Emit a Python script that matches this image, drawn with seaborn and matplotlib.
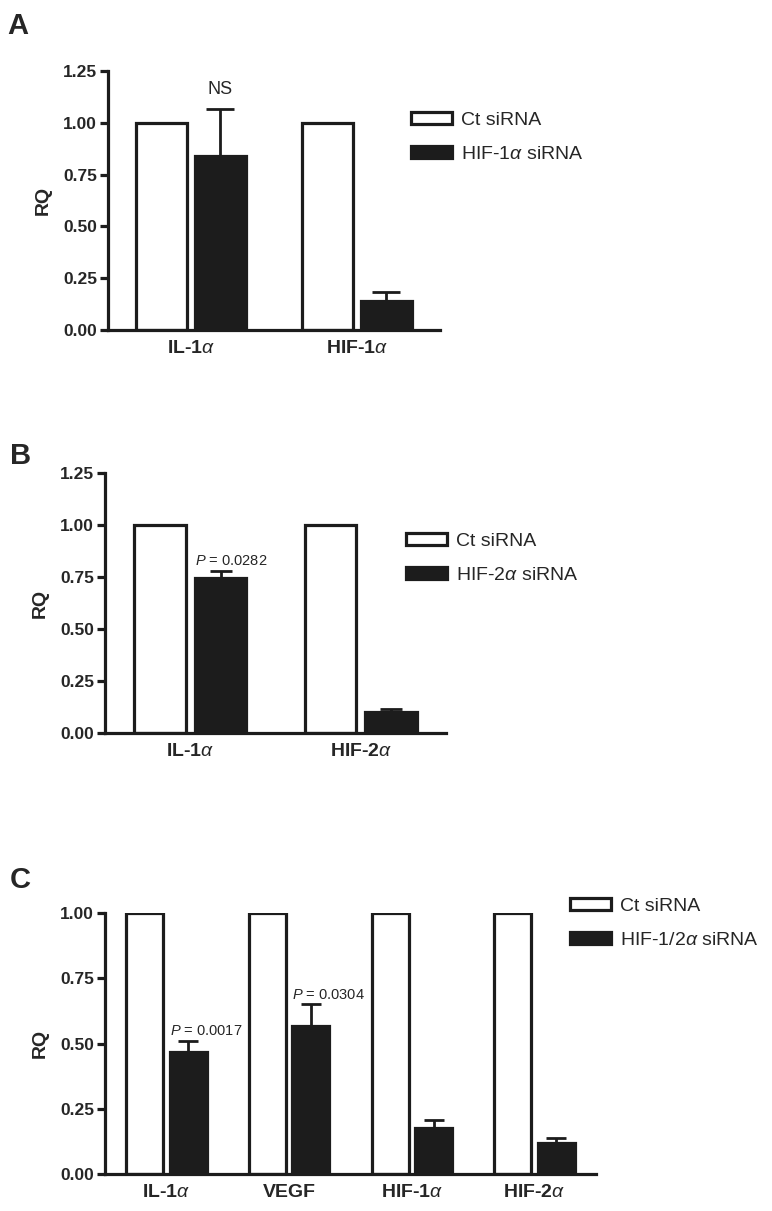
import numpy as np
import pandas as pd
import seaborn as sns
import matplotlib.pyplot as plt
import matplotlib.patches as mpatches

# Panel A : HIF-1a siRNA
genes_a = ['IL-1$\\alpha$', 'HIF-1$\\alpha$']
ct_a = [1.0, 1.0]
si_a = [0.84, 0.141]
err_a = [0.227, 0.044]
lab_a = 'HIF-1$\\alpha$ siRNA'
note_a = ['NS', '']

# Panel B : HIF-2a siRNA
genes_b = ['IL-1$\\alpha$', 'HIF-2$\\alpha$']
ct_b = [1.0, 1.0]
si_b = [0.747, 0.102]
err_b = [0.033, 0.012]
lab_b = 'HIF-2$\\alpha$ siRNA'
note_b = ['$P$ = 0.0282', '']

# Panel C : HIF-1/2a siRNA
genes_c = ['IL-1$\\alpha$', 'VEGF', 'HIF-1$\\alpha$', 'HIF-2$\\alpha$']
ct_c = [1.0, 1.0, 1.0, 1.0]
si_c = [0.469, 0.568, 0.177, 0.119]
err_c = [0.042, 0.083, 0.030, 0.018]
lab_c = 'HIF-1/2$\\alpha$ siRNA'
note_c = ['$P$ = 0.0017', '$P$ = 0.0304', '', '']

sns.set_style('ticks')
plt.rcParams['font.family'] = ['Liberation Sans', 'DejaVu Sans']
plt.rcParams['mathtext.fontset'] = 'custom'
plt.rcParams['mathtext.it'] = 'Liberation Sans:italic'
plt.rcParams['mathtext.rm'] = 'Liberation Sans'

ink = '#1c1c1c'
W, H = 772, 1211
fig = plt.figure(figsize=(W / 100, H / 100), dpi=100)


def rect(l, t, r, b):
    return [l / W, 1 - b / H, (r - l) / W, (b - t) / H]


def panel(box, genes, ct, si, err, lab, notes, ymax, cap, leg_xy, letter, letter_xy):
    ax = fig.add_axes(rect(*box))
    df = pd.DataFrame({'gene': genes * 2,
                       'RQ': ct + si,
                       'group': ['Ct siRNA'] * len(genes) + [lab] * len(genes)})
    sns.barplot(data=df, x='gene', y='RQ', hue='group', palette=['white', ink],
                edgecolor=ink, linewidth=2.3, width=0.71, gap=0.15,
                errorbar=None, legend=False, ax=ax)
    bars = ax.containers[1]
    xs = [b.get_x() + b.get_width() / 2 for b in bars]
    ax.errorbar(xs, si, yerr=[np.zeros(len(si)), err], fmt='none', ecolor=ink,
                elinewidth=2.0, capsize=cap, capthick=2.0, zorder=0.5)
    for b, v, e, t in zip(bars, si, err, notes):
        if t == 'NS':
            ax.annotate(t, (b.get_x() + b.get_width() / 2, v + e), xytext=(0, 8),
                        textcoords='offset points', ha='center', va='bottom', fontsize=13)
        elif t:
            ax.annotate(t, (b.get_x(), v + e), xytext=(0, 4),
                        textcoords='offset points', ha='left', va='baseline', fontsize=10.5)

    ax.set_xlim(-0.5, len(genes) - 0.5)
    ax.set_ylim(0, ymax)
    ax.set_yticks(np.arange(0, ymax + 0.01, 0.25))
    ax.set_yticklabels(['%.2f' % v for v in np.arange(0, ymax + 0.01, 0.25)])
    ax.set_xlabel('')
    ax.set_ylabel('RQ', fontsize=14, fontweight='bold', labelpad=8)
    sns.despine(ax=ax)
    for s in ['left', 'bottom']:
        ax.spines[s].set_linewidth(2.3)
        ax.spines[s].set_color(ink)
    ax.tick_params(axis='y', length=6, width=2.3, color=ink, labelsize=12.5, pad=2)
    ax.tick_params(axis='x', length=0, labelsize=14, pad=7)
    for t in ax.get_yticklabels() + ax.get_xticklabels():
        t.set_fontweight('bold')

    handles = [mpatches.Patch(facecolor='white', edgecolor=ink, linewidth=2.3, label='Ct siRNA'),
               mpatches.Patch(facecolor=ink, edgecolor=ink, linewidth=2.3, label=lab)]
    ax.legend(handles=handles, loc='upper left', bbox_to_anchor=(leg_xy[0] / W, 1 - leg_xy[1] / H),
              bbox_transform=fig.transFigure, frameon=False, fontsize=14,
              handlelength=2.1, handleheight=0.6, handletextpad=0.45,
              labelspacing=0.85, borderpad=0, borderaxespad=0)
    fig.text(letter_xy[0] / W, 1 - letter_xy[1] / H, letter, fontsize=21,
             fontweight='bold', ha='left', va='top')
    return ax


panel((108, 71, 440, 330), genes_a, ct_a, si_a, err_a, lab_a, note_a, 1.25, 10,
      (411, 112), 'A', (7, 12))
panel((105, 473, 446, 733), genes_b, ct_b, si_b, err_b, lab_b, note_b, 1.25, 8,
      (406, 533), 'B', (10, 442))
panel((105, 913, 596, 1174), genes_c, ct_c, si_c, err_c, lab_c, note_c, 1.0, 7.5,
      (570, 898), 'C', (10, 866))

fig.savefig('out.png', dpi=100)
